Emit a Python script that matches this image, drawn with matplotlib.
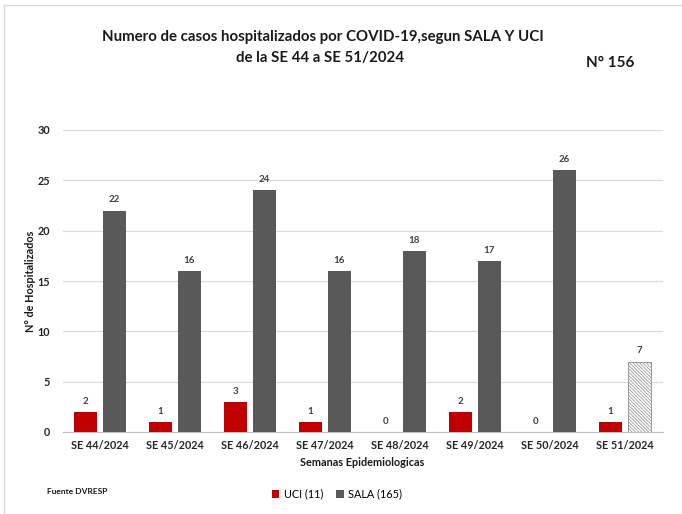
import numpy as np
import matplotlib.pyplot as plt
from matplotlib.lines import Line2D

plt.rcParams['font.family'] = ['Lato', 'DejaVu Sans']

# datos
semanas = ['SE 44/2024', 'SE 45/2024', 'SE 46/2024', 'SE 47/2024',
           'SE 48/2024', 'SE 49/2024', 'SE 50/2024', 'SE 51/2024']
uci = [2, 1, 3, 1, 0, 2, 0, 1]
sala = [22, 16, 24, 16, 18, 17, 26, 7]

fig = plt.figure(figsize=(6.82, 5.14), dpi=100)
ax = fig.add_axes([62.5 / 682, 1 - 432 / 514, 600 / 682, (432 - 130) / 514])

x = np.arange(len(semanas))
w = 0.307
off = 0.193

b1 = ax.bar(x - off, uci, w, color='#C00000', label='UCI (11)', zorder=3)
b2 = ax.bar(x[:-1] + off, sala[:-1], w, color='#595959', label='SALA (165)', zorder=3)
# ultima semana en trama (datos preliminares)
plt.rcParams['hatch.linewidth'] = 0.5
b3 = ax.bar(x[-1] + off, sala[-1], w, color='white', edgecolor='#8c8c8c',
            hatch='\\\\\\\\\\\\\\\\\\\\', linewidth=0.6, zorder=3)

for xi, v in zip(x - off, uci):
    ax.text(xi, v + 0.6, str(v), ha='center', va='bottom', fontsize=7,
            fontweight='bold', color='#404040')
for xi, v in zip(x + off, sala):
    ax.text(xi, v + 0.6, str(v), ha='center', va='bottom', fontsize=7,
            fontweight='bold', color='#404040')

ax.set_xlim(-0.5, 7.5)
ax.set_ylim(0, 30)
ax.set_yticks(range(0, 31, 5))
ax.set_xticks(x)
ax.set_xticklabels(semanas, fontsize=7.8, fontweight='bold', color='#262626')
ax.tick_params(axis='y', labelsize=7.8, colors='#262626', length=0, pad=9)
ax.tick_params(axis='x', length=0, pad=6)
for lbl in ax.get_yticklabels():
    lbl.set_fontweight('bold')
ax.grid(axis='y', color='#d9d9d9', linewidth=0.8, zorder=0)
for s in ['left', 'right', 'top']:
    ax.spines[s].set_visible(False)
ax.spines['bottom'].set_color('#bfbfbf')

ax.set_ylabel('N° de Hospitalizados', fontsize=7.8, fontweight='bold', color='#1a1a1a', labelpad=1)
ax.set_xlabel('Semanas Epidemiologicas', fontsize=7.8, fontweight='bold', color='#1a1a1a', labelpad=4)

fig.text(323 / 682, 1 - 37 / 514, 'Numero de casos hospitalizados por COVID-19,segun SALA Y UCI',
         ha='center', va='center', fontsize=10.8, fontweight='bold', color='#1a1a1a')
fig.text(320 / 682, 1 - 58 / 514, 'de la SE 44 a SE 51/2024',
         ha='center', va='center', fontsize=10.8, fontweight='bold', color='#1a1a1a')
fig.text(610 / 682, 1 - 63 / 514, 'N° 156', ha='center', va='center',
         fontsize=11, fontweight='bold', color='#1a1a1a')
fig.text(47 / 682, 1 - 492 / 514, 'Fuente DVRESP', ha='left', va='center',
         fontsize=6, fontweight='bold', color='#1a1a1a')

fig.legend(handles=[b1, b2], loc='center', bbox_to_anchor=(337 / 682, 1 - 494 / 514),
           ncol=2, frameon=False, fontsize=7.8, handlelength=0.7, handleheight=0.7,
           handletextpad=0.4, columnspacing=1.2)

# marco
fig.add_artist(Line2D([4 / 682, 4 / 682], [0, 1 - 5 / 514], transform=fig.transFigure,
                      color='#d9d9d9', linewidth=1))
fig.add_artist(Line2D([4 / 682, 1], [1 - 5 / 514, 1 - 5 / 514], transform=fig.transFigure,
                      color='#d9d9d9', linewidth=1))

fig.savefig('out.png', dpi=100)
